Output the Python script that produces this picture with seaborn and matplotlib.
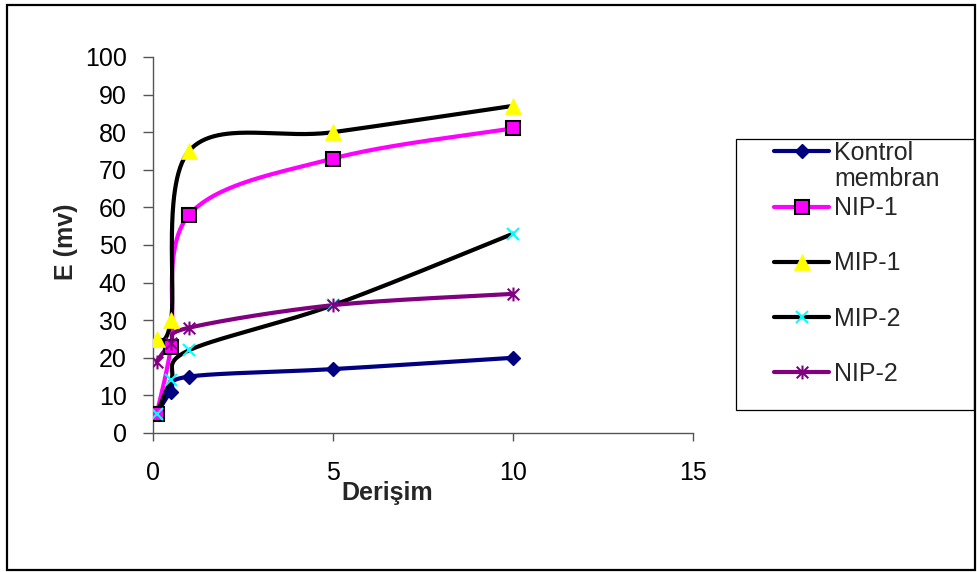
import numpy as np
import matplotlib
matplotlib.use("Agg")
import matplotlib.pyplot as plt
import seaborn as sns
from matplotlib.lines import Line2D
from matplotlib.path import Path
from matplotlib.patches import Rectangle

# Measured potentials (mV) against concentration
concentration = [0.1, 0.5, 1, 5, 10]
kontrol = [5, 11, 15, 17, 20]
nip1 = [5, 23, 58, 73, 81]
mip1 = [25, 30, 75, 80, 87]
mip2 = [5, 14, 22, 34, 53]
nip2 = [19, 24, 28, 34, 37]

labels = ["Kontrol membran", "NIP-1", "MIP-1", "MIP-2", "NIP-2"]
x_ticks = [0, 5, 10, 15]
y_ticks = list(range(0, 101, 10))

sns.set_style("white")
plt.rcParams["font.family"] = ["Liberation Sans", "DejaVu Sans"]
FS = 18

# asterisk marker: an X with a vertical stroke
star_path = Path(
    [(-0.5, -0.5), (0.5, 0.5), (-0.5, 0.5), (0.5, -0.5), (0, -0.6), (0, 0.6)],
    [Path.MOVETO, Path.LINETO, Path.MOVETO, Path.LINETO, Path.MOVETO, Path.LINETO],
)

styles = [
    dict(line="#000080", marker="D", mfc="#000080", mec="#000080", ms=7, mew=1),
    dict(line="#FF00FF", marker="s", mfc="#FF00FF", mec="black", ms=9.5, mew=1.5),
    dict(line="black", marker="^", mfc="#FFFF00", mec="#FFFF00", ms=11, mew=0.5),
    dict(line="black", marker="x", mfc="#00FFFF", mec="#00FFFF", ms=8, mew=1.5),
    dict(line="#800080", marker=star_path, mfc="#800080", mec="#800080", ms=10, mew=1.5),
]


def smooth(xs, ys, n=60):
    """Bezier smoothing through every point (Catmull-Rom style control points)."""
    p = np.column_stack([xs, ys]).astype(float)
    ext = np.vstack([p[0], p, p[-1]])
    t = np.linspace(0, 1, n)[:, None]
    parts = []
    for i in range(len(p) - 1):
        p0, p1, p2, p3 = ext[i], ext[i + 1], ext[i + 2], ext[i + 3]
        b1 = p1 + (p2 - p0) / 6
        b2 = p2 - (p3 - p1) / 6
        seg = (1 - t) ** 3 * p1 + 3 * (1 - t) ** 2 * t * b1 + 3 * (1 - t) * t ** 2 * b2 + t ** 3 * p2
        parts.append(seg if i == 0 else seg[1:])
    return np.vstack(parts)


W, H = 977, 572
fig = plt.figure(figsize=(W / 100, H / 100), dpi=100)
ax = fig.add_axes([153 / W, 1 - 433 / H, 540 / W, 376 / H])

series = [kontrol, nip1, mip1, mip2, nip2]
for vals, st in zip(series, styles):
    curve = smooth(concentration, vals)
    sns.lineplot(x=curve[:, 0], y=curve[:, 1], sort=False, estimator=None,
                 color=st["line"], lw=3, ax=ax, zorder=2)
for vals, st in zip(series, styles):
    ax.plot(concentration, vals, linestyle="none", marker=st["marker"],
            mfc=st["mfc"], mec=st["mec"], ms=st["ms"], mew=st["mew"], zorder=3)

ax.set_xlim(0, 15)
ax.set_ylim(0, 100)
ax.set_xticks(x_ticks)
ax.set_yticks(y_ticks)
ax.tick_params(axis="both", labelsize=FS, colors="#555555", labelcolor="black",
               direction="out", width=1, bottom=True, left=True)
ax.tick_params(axis="y", length=7, pad=12)
ax.tick_params(axis="x", length=6, pad=14)
for side in ["top", "right"]:
    ax.spines[side].set_visible(False)
for side in ["left", "bottom"]:
    ax.spines[side].set_color("#555555")
    ax.spines[side].set_linewidth(1)
ax.set_xlabel("Derişim", fontsize=FS, fontweight="bold")
ax.set_ylabel("E (mv)", fontsize=FS, fontweight="bold")
ax.xaxis.set_label_coords((387 - 153) / 540, (433 - 493) / 376)
ax.yaxis.set_label_coords((66 - 153) / 540, (433 - 242) / 376)
ax.xaxis.label.set_va("center")
ax.yaxis.label.set_va("center")

# legend
handles = [Line2D([], [], color=st["line"], lw=3, marker=st["marker"], mfc=st["mfc"],
                  mec=st["mec"], ms=st["ms"], mew=st["mew"]) for st in styles]
leg_labels = ["Kontrol", "NIP-1", "MIP-1", "MIP-2", "NIP-2"]
leg = fig.legend(handles, leg_labels, loc="upper left",
                 bbox_to_anchor=(774 / W, 1 - 141 / H), frameon=False,
                 fontsize=FS, handlelength=2.2, handletextpad=0.2,
                 labelspacing=1.25, borderpad=0, borderaxespad=0)
fig.add_artist(Rectangle((736 / W, 1 - 410 / H), 238 / W, 271 / H,
                         transform=fig.transFigure, fill=False, lw=0.9,
                         edgecolor="black"))

fig.canvas.draw()
t0 = leg.get_texts()[0].get_window_extent()
x0, y0 = fig.transFigure.inverted().transform((t0.x0, t0.y0))
fig.text(x0, y0 - 26 / H, labels[0].split(" ")[1], fontsize=FS, va="bottom", ha="left")

# chart-area border
fig.add_artist(Rectangle((7 / W, 1 - 570 / H), 968 / W, 565 / H,
                         transform=fig.transFigure, fill=False, lw=1.6,
                         edgecolor="black"))

fig.savefig("out.png", dpi=100)
